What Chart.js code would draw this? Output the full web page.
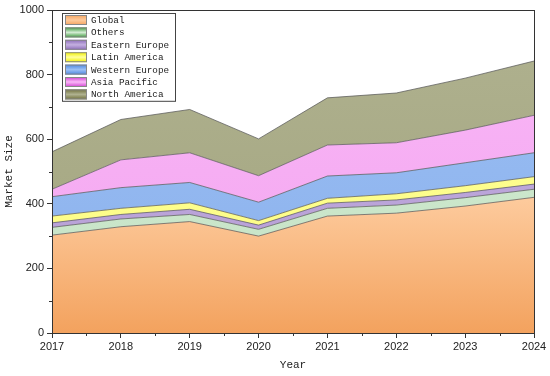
<!DOCTYPE html>
<html>
<head>
<meta charset="utf-8">
<script src="https://cdn.jsdelivr.net/npm/chart.js@4"></script>
<style>
  html, body { margin: 0; padding: 0; background: #fff; }
  #wrap { width: 550px; height: 376px; }
</style>
</head>
<body>
<div id="wrap"><canvas id="marketChart" width="550" height="376"></canvas></div>
<script>
const years = ['2017', '2018', '2019', '2020', '2021', '2022', '2023', '2024'];
const seriesNames = ['Global', 'Others', 'Eastern Europe', 'Latin America', 'Western Europe', 'Asia Pacific', 'North America'];
const globalVals = [303, 329, 345, 300, 362, 371, 393, 420];
const othersVals = [24, 24, 22, 21, 24, 25, 26, 25];
const easternEuropeVals = [14, 14, 16, 13, 16, 16, 16, 16];
const latinAmericaVals = [21, 19, 20, 14, 15, 19, 21, 23];
const westernEuropeVals = [60, 64, 63, 57, 69, 65, 71, 74];
const asiaPacificVals = [23, 86, 92, 82, 96, 93, 101, 116];
const northAmericaVals = [116, 125, 134, 114, 146, 154, 161, 168];
const yTicks = [0, 200, 400, 600, 800, 1000];

const seriesValues = [globalVals, othersVals, easternEuropeVals, latinAmericaVals, westernEuropeVals, asiaPacificVals, northAmericaVals];
// light / dark shade per series
const shades = [
  ['#fdca9c', '#f3a25e'],
  ['#d4ecd4', '#c4e2c4'],
  ['#c4b0e0', '#b49cd4'],
  ['#ffff9c', '#fcfc80'],
  ['#9cc0f4', '#8ab0ec'],
  ['#fab8f8', '#f2a4ee'],
  ['#b0b290', '#a2a47e']
];
const swatchEdge = ['#f4a460', '#3c9a3c', '#8a6ab8', '#f0f000', '#4a86e0', '#d040d0', '#6e6e3a'];

const fillFor = (i) => (ctx) => {
  const area = ctx.chart.chartArea;
  if (!area) return shades[i][1];
  const g = ctx.chart.ctx.createLinearGradient(0, i === 0 ? 200 : area.top, 0, area.bottom);
  g.addColorStop(0, shades[i][0]);
  g.addColorStop(1, shades[i][1]);
  return g;
};

const datasets = seriesNames.map((name, i) => ({
  label: name,
  data: seriesValues[i],
  fill: i === 0 ? 'origin' : '-1',
  backgroundColor: fillFor(i),
  borderColor: 'rgba(90,90,90,0.75)',
  borderWidth: 1,
  pointRadius: 0,
  tension: 0
}));

const framePlugin = {
  id: 'framePlugin',
  afterDraw(chart) {
    const c = chart.ctx;
    const a = chart.chartArea;
    const x = chart.scales.x;
    const y = chart.scales.y;
    c.save();
    c.strokeStyle = '#333';
    c.lineWidth = 1;
    c.strokeRect(a.left + 0.5, a.top + 0.5, a.right - a.left, a.bottom - a.top);
    // minor ticks
    c.beginPath();
    for (let v = 100; v < 1000; v += 200) {
      const py = Math.round(y.getPixelForValue(v)) + 0.5;
      c.moveTo(a.left, py); c.lineTo(a.left - 3, py);
    }
    for (let i = 0; i < years.length - 1; i++) {
      const px = Math.round((x.getPixelForValue(i) + x.getPixelForValue(i + 1)) / 2) + 0.5;
      c.moveTo(px, a.bottom); c.lineTo(px, a.bottom + 3);
    }
    c.stroke();

    // legend
    const lx = 62, ly = 13, rowH = 12.4, w = 113;
    const h = rowH * seriesNames.length + 1;
    c.fillStyle = '#fff';
    c.fillRect(lx, ly, w, h);
    c.strokeStyle = '#444';
    c.strokeRect(lx + 0.5, ly + 0.5, w, h);
    c.font = '9.3px "Liberation Mono", monospace';
    c.textBaseline = 'middle';
    seriesNames.forEach((name, i) => {
      const top = ly + 2 + i * rowH;
      const g = c.createLinearGradient(0, top, 0, top + 10);
      g.addColorStop(0, swatchEdge[i]);
      g.addColorStop(0.5, shades[i][0]);
      g.addColorStop(1, swatchEdge[i]);
      c.fillStyle = g;
      c.fillRect(lx + 3, top, 22, 10);
      c.strokeStyle = '#888';
      c.strokeRect(lx + 3.5, top + 0.5, 21, 9);
      c.fillStyle = '#222';
      c.fillText(name, lx + 29, top + 5.5);
    });
    c.restore();
  }
};

const ctx = document.getElementById('marketChart');
new Chart(ctx, {
  type: 'line',
  data: { labels: years, datasets: datasets },
  options: {
    responsive: false,
    animation: false,
    layout: { padding: { left: 0, right: 16, top: 10, bottom: 0 } },
    plugins: { legend: { display: false }, tooltip: { enabled: false } },
    scales: {
      x: {
        offset: false,
        grid: { drawOnChartArea: false, tickLength: 5, color: '#333' },
        border: { color: '#333' },
        ticks: { color: '#222', font: { family: 'Liberation Sans', size: 11 }, maxRotation: 0, padding: 2 },
        title: { display: true, text: 'Year', color: '#222', font: { family: 'Liberation Mono', size: 11 }, padding: { top: 0, bottom: 4 } },
        afterFit: (s) => { s.height = 43; }
      },
      y: {
        stacked: true,
        min: 0,
        max: 1000,
        afterBuildTicks: (s) => { s.ticks = yTicks.map(v => ({ value: v })); },
        grid: { drawOnChartArea: false, tickLength: 5, color: '#333' },
        border: { color: '#333' },
        ticks: { color: '#222', font: { family: 'Liberation Sans', size: 11 }, padding: 3, callback: (v) => String(v) },
        title: { display: true, text: 'Market Size', color: '#222', font: { family: 'Liberation Mono', size: 11 }, padding: { top: 2, bottom: 0 } },
        afterFit: (s) => { s.width = 52; }
      }
    }
  },
  plugins: [framePlugin]
});
</script>
</body>
</html>
